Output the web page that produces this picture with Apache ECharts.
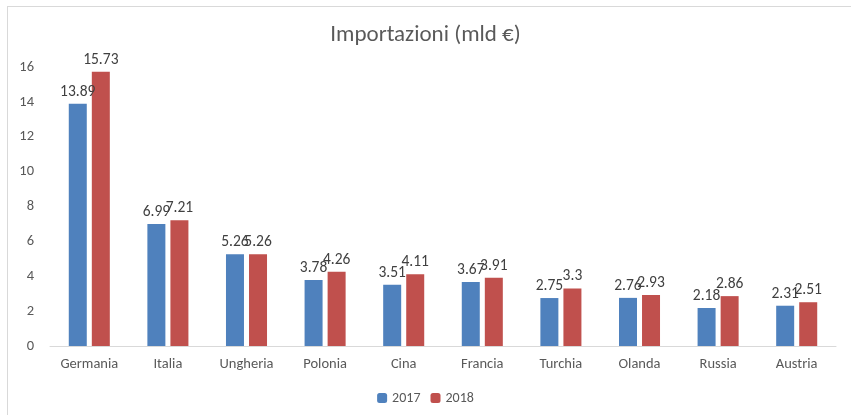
<!DOCTYPE html>
<html lang="it">
<head>
    <meta charset="utf-8" />
    <title>Importazioni (mld €)</title>
    <style>
      html, body { margin: 0; padding: 0; background: #fff; }
      .frame {
        position: absolute;
        left: 7px;
        top: 6px;
        width: 844px;
        height: 409px;
        border-left: 1px solid #d9d9d9;
        border-top: 1px solid #d9d9d9;
      }
      #main { position: absolute; left: 0; top: 0; width: 851px; height: 415px; }
    </style>
</head>
<body>
    <div class="frame"></div>
    <div id="main"></div>
    <script src="https://cdn.jsdelivr.net/npm/echarts@6/dist/echarts.min.js"></script>
    <script>
    var paesi = ["Germania", "Italia", "Ungheria", "Polonia", "Cina", "Francia", "Turchia", "Olanda", "Russia", "Austria"];
    var anno2017 = [13.89, 6.99, 5.26, 3.78, 3.51, 3.67, 2.75, 2.76, 2.18, 2.31];
    var anno2018 = [15.73, 7.21, 5.26, 4.26, 4.11, 3.91, 3.3, 2.93, 2.86, 2.51];

    var font = "Calibri, Carlito, 'Open Sans', sans-serif";

    // etichette sopra le barre
    var lbl = {
      show: true,
      position: "top",
      distance: 4,
      color: "#404040",
      fontSize: 15.5,
      fontFamily: font
    };

    var myChart = echarts.init(document.getElementById("main"));
    var option = {
      animation: false,
      title: {
        text: "Importazioni (mld €)",
        left: "center",
        top: 19,
        textStyle: {
          color: "#595959",
          fontSize: 23,
          fontWeight: "normal",
          fontFamily: font
        }
      },
      legend: {
        bottom: 5,
        left: "center",
        itemWidth: 10,
        itemHeight: 10,
        itemGap: 10,
        textStyle: { color: "#595959", fontSize: 14, fontFamily: font },
        data: ["2017", "2018"]
      },
      grid: {
        left: 50,
        right: 15,
        top: 67,
        bottom: 69
      },
      xAxis: {
        type: "category",
        data: paesi,
        axisTick: { show: false },
        axisLine: { lineStyle: { color: "#d9d9d9" } },
        axisLabel: {
          color: "#595959",
          fontSize: 14.5,
          margin: 11,
          fontFamily: font
        }
      },
      yAxis: {
        type: "value",
        min: 0,
        max: 16,
        interval: 2,
        splitLine: { show: false },
        axisLine: { show: false },
        axisTick: { show: false },
        axisLabel: {
          color: "#595959",
          fontSize: 14.5,
          margin: 16,
          fontFamily: font
        }
      },
      series: [
        {
          name: "2017",
          type: "bar",
          data: anno2017,
          barWidth: 18,
          barGap: "28%",
          itemStyle: { color: "#4f81bd" },
          label: lbl
        },
        {
          name: "2018",
          type: "bar",
          data: anno2018,
          barWidth: 18,
          itemStyle: { color: "#c0504d" },
          label: lbl
        }
      ]
    };
    myChart.setOption(option);
    </script>
</body>
</html>
